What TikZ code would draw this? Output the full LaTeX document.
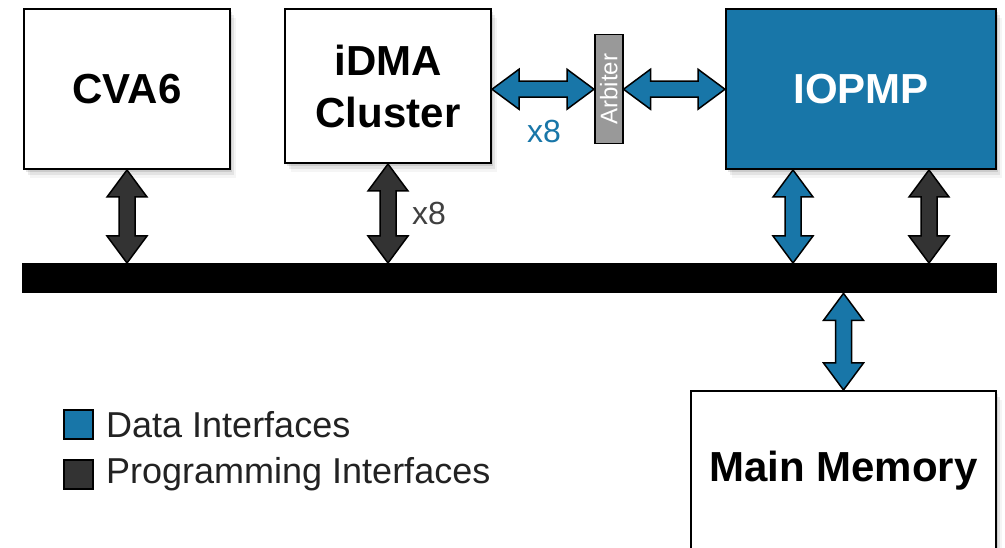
\documentclass[tikz,border=0pt]{standalone}
\usepackage{fontspec}
\setmainfont{Liberation Sans}
\usetikzlibrary{calc,shadows}
\definecolor{ifblue}{RGB}{24,118,168}
\definecolor{ifdark}{RGB}{51,51,51}
\definecolor{arbgray}{RGB}{153,153,153}
\definecolor{lbltext}{RGB}{64,64,64}
\definecolor{legtext}{RGB}{34,34,34}
\newcommand{\VArrowIf}[3]{%
  \draw[dblarrow, fill=#3] let \p1=(#1), \p2=(#2) in
    (\x1,\y1) -- (\x1+20pt,\y1-27pt) -- (\x1+8pt,\y1-27pt) -- (\x1+8pt,\y2+27pt)
    -- (\x1+20pt,\y2+27pt) -- (\x1,\y2) -- (\x1-20pt,\y2+27pt) -- (\x1-8pt,\y2+27pt)
    -- (\x1-8pt,\y1-27pt) -- (\x1-20pt,\y1-27pt) -- cycle;}
\newcommand{\HArrowIf}[3]{%
  \draw[dblarrow, fill=#3] let \p1=(#1), \p2=(#2) in
    (\x1,\y1) -- (\x1+27pt,\y1+20pt) -- (\x1+27pt,\y1+8pt) -- (\x2-27pt,\y1+8pt)
    -- (\x2-27pt,\y1+20pt) -- (\x2,\y1) -- (\x2-27pt,\y1-20pt) -- (\x2-27pt,\y1-8pt)
    -- (\x1+27pt,\y1-8pt) -- (\x1+27pt,\y1-20pt) -- cycle;}
\begin{document}
\begin{tikzpicture}[x=1pt,y=-1pt,
  softshadow/.style={drop shadow={shadow xshift=2pt,shadow yshift=-3pt,opacity=0.10,fill=black},
                     drop shadow={shadow xshift=4pt,shadow yshift=-6pt,opacity=0.07,fill=black},
                     drop shadow={shadow xshift=6pt,shadow yshift=-9pt,opacity=0.04,fill=black}},
  box/.style={draw=black, line width=2pt, fill=white, anchor=north west,
              font=\fontsize{42}{52}\selectfont\bfseries, align=center, inner sep=0pt, softshadow},
  dblarrow/.style={draw=black, line width=1.5pt, line join=miter},
  legbox/.style={draw=black, line width=2pt, minimum size=29pt, inner sep=0pt, anchor=north west},
  legtxt/.style={anchor=west, font=\fontsize{36}{40}\selectfont, text=legtext, inner sep=0pt},
  mult/.style={font=\fontsize{32}{36}\selectfont, inner sep=0pt}
]
\clip (0,0) rectangle (1005,548);
\fill[white] (0,0) rectangle (1005,548);

% blocks
\node[box, minimum width=206pt, minimum height=160pt] (cva6) at (23,8) {CVA6};
\node[box, minimum width=206pt, minimum height=154pt] (idma) at (284,8) {iDMA\\Cluster};
\node[box, fill=ifblue, text=white, minimum width=270pt, minimum height=160pt] (iopmp) at (725,8) {IOPMP};
\node[box, minimum width=305pt, minimum height=160pt] (mem) at (690,390) {Main Memory};

% bus
\node[fill=black, draw=none, minimum width=975pt, minimum height=30pt, inner sep=0pt, anchor=north west] (bus) at (22,263) {};

% arbiter
\node[draw=black, line width=1.5pt, fill=arbgray, minimum width=28pt, minimum height=109pt,
      inner sep=0pt, anchor=north west] (arb) at (594,34) {};
\node[rotate=90, text=white, font=\fontsize{24}{28}\selectfont, inner sep=0pt] (arbtxt) at (arb.center) {Arbiter};

% arrow end points
\coordinate (a1t) at (cva6.south);
\coordinate (a1b) at (cva6.south |- bus.north);
\coordinate (a2t) at (idma.south);
\coordinate (a2b) at (idma.south |- bus.north);
\coordinate (a3t) at ($(iopmp.south west)!0.25!(iopmp.south east)$);
\coordinate (a3b) at (a3t |- bus.north);
\coordinate (a4t) at ($(iopmp.south west)!0.75!(iopmp.south east)$);
\coordinate (a4b) at (a4t |- bus.north);
\coordinate (a5t) at (mem.north |- bus.south);
\coordinate (a5b) at (mem.north);
\coordinate (h1l) at (idma.east |- arb.west);
\coordinate (h2r) at (iopmp.west |- arb.east);

% connectors
\VArrowIf{a1t}{a1b}{ifdark}
\VArrowIf{a2t}{a2b}{ifdark}
\VArrowIf{a3t}{a3b}{ifblue}
\VArrowIf{a4t}{a4b}{ifdark}
\VArrowIf{a5t}{a5b}{ifblue}
\HArrowIf{h1l}{arb.west}{ifblue}
\HArrowIf{arb.east}{h2r}{ifblue}

% multiplicity labels
\node[mult, text=lbltext] (m1) at (429,213) {x8};
\node[mult, text=ifblue] (m2) at (544,131) {x8};

% legend
\node[legbox, fill=ifblue] (lg1) at (63,409) {};
\node[legtxt] (lt1) at ([xshift=12pt]lg1.east) {Data Interfaces};
\node[legbox, fill=ifdark] (lg2) at (63,459) {};
\node[legtxt] (lt2) at ([xshift=12pt]lg2.east) {Programming Interfaces};
\end{tikzpicture}
\end{document}
